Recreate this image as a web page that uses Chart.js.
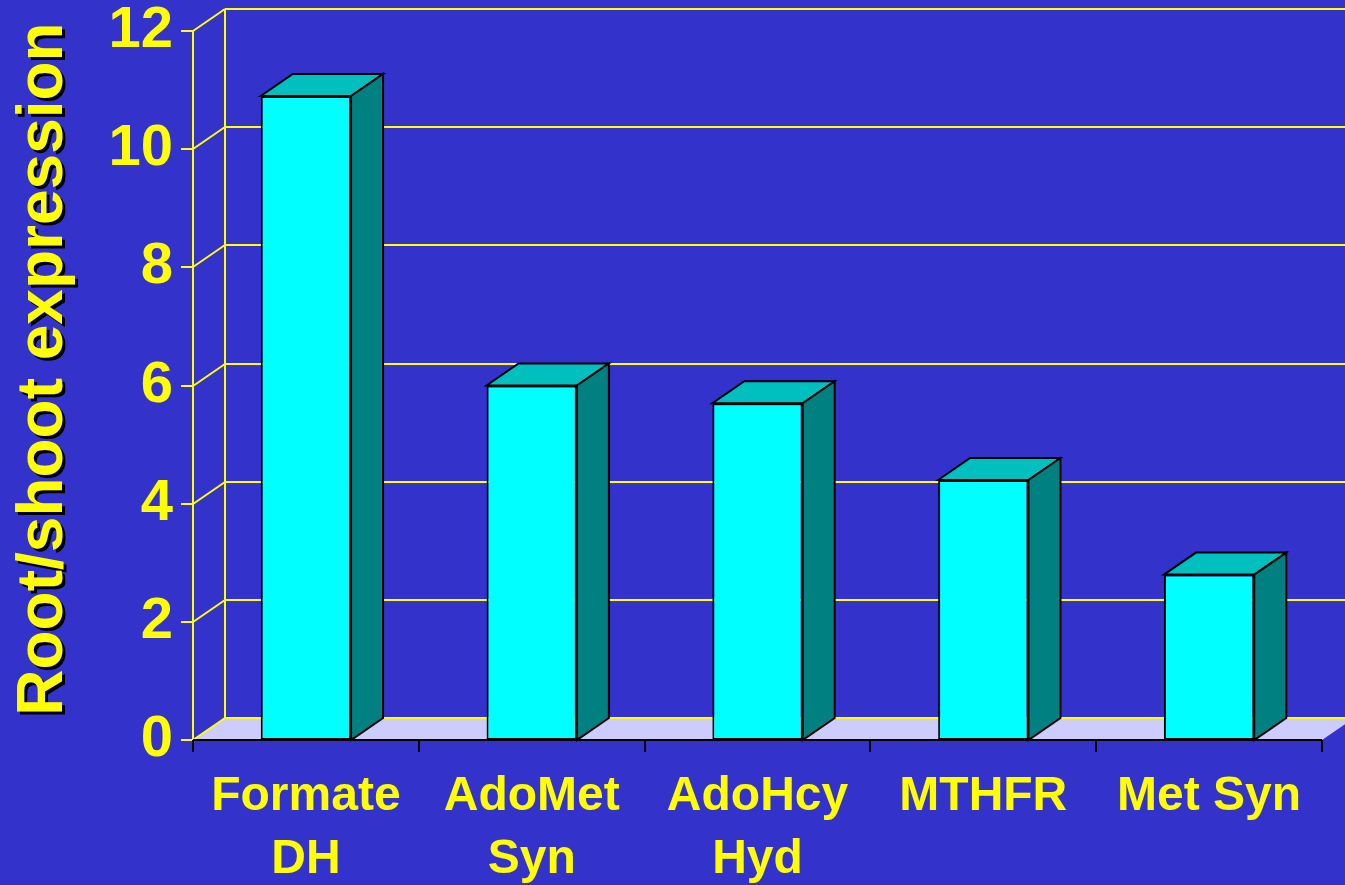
<!DOCTYPE html>
<html>
<head>
<meta charset="utf-8">
<script src="https://cdn.jsdelivr.net/npm/chart.js@4/dist/chart.umd.min.js"></script>
<style>
  html, body { margin: 0; padding: 0; background: #3333CC; }
  canvas { display: block; }
</style>
</head>
<body>
<canvas id="expression-chart" width="1345" height="885"></canvas>
<script>
// data
const genes = [['Formate', 'DH'], ['AdoMet', 'Syn'], ['AdoHcy', 'Hyd'], 'MTHFR', 'Met Syn'];
const rootShootRatio = [10.9, 6.0, 5.7, 4.4, 2.8];
const yMin = 0;
const yMax = 12;
const yStep = 2;
const yTitle = 'Root/shoot expression';

const YELLOW = '#FFFF00';
const BG = '#3333CC';
const DX = 32;   // depth offset of the 3D box
const DY = 22;
const fontFamily = '"Liberation Sans", Arial, sans-serif';

const box3d = {
  id: 'box3d',
  beforeDraw(chart) {
    const ctx = chart.ctx;
    ctx.save();
    ctx.fillStyle = BG;
    ctx.fillRect(0, 0, chart.width, chart.height);
    ctx.restore();
  },
  beforeDatasetsDraw(chart) {
    const ctx = chart.ctx;
    const a = chart.chartArea;
    const y = chart.scales.y;
    const x = chart.scales.x;
    const y0 = Math.round(y.getPixelForValue(0));
    const left = Math.round(a.left);
    ctx.save();
    // floor
    ctx.fillStyle = '#CCCCFF';
    ctx.beginPath();
    ctx.moveTo(left, y0);
    ctx.lineTo(a.right, y0);
    ctx.lineTo(a.right + DX, y0 - DY);
    ctx.lineTo(left + DX, y0 - DY);
    ctx.closePath();
    ctx.fill();
    // grid on back and side wall
    ctx.strokeStyle = YELLOW;
    ctx.lineWidth = 2;
    for (let v = yMin; v <= yMax; v += yStep) {
      const py = Math.round(y.getPixelForValue(v));
      ctx.beginPath();
      ctx.moveTo(left + DX, py - DY);
      ctx.lineTo(chart.width, py - DY);
      ctx.moveTo(left, py);
      ctx.lineTo(left + DX, py - DY);
      ctx.moveTo(left - 12, py);
      ctx.lineTo(left, py);
      ctx.stroke();
    }
    const yTop = Math.round(y.getPixelForValue(yMax));
    ctx.beginPath();
    ctx.moveTo(left, yTop);
    ctx.lineTo(left, y0);
    ctx.moveTo(left + DX, yTop - DY);
    ctx.lineTo(left + DX, y0 - DY);
    ctx.stroke();
    // category axis
    ctx.strokeStyle = '#000';
    ctx.beginPath();
    ctx.moveTo(left, y0);
    ctx.lineTo(a.right, y0);
    for (let i = 0; i <= genes.length; i++) {
      const px = Math.round(x.getPixelForValue(i - 0.5));
      ctx.moveTo(px, y0);
      ctx.lineTo(px, y0 + 12);
    }
    ctx.stroke();
    ctx.restore();
  },
  afterDatasetsDraw(chart) {
    const ctx = chart.ctx;
    ctx.save();
    ctx.strokeStyle = '#000';
    ctx.lineWidth = 2;
    ctx.lineJoin = 'miter';
    chart.getDatasetMeta(0).data.forEach((bar) => {
      const l = bar.x - bar.width / 2;
      const r = bar.x + bar.width / 2;
      const t = bar.y;
      const b = bar.base;
      ctx.fillStyle = '#00BFBF';
      ctx.beginPath();
      ctx.moveTo(l, t);
      ctx.lineTo(l + DX, t - DY);
      ctx.lineTo(r + DX, t - DY);
      ctx.lineTo(r, t);
      ctx.closePath();
      ctx.fill();
      ctx.stroke();
      ctx.fillStyle = '#008080';
      ctx.beginPath();
      ctx.moveTo(r, t);
      ctx.lineTo(r + DX, t - DY);
      ctx.lineTo(r + DX, b - DY);
      ctx.lineTo(r, b);
      ctx.closePath();
      ctx.fill();
      ctx.stroke();
    });
    ctx.restore();
  },
  afterDraw(chart) {
    // axis title with the drop shadow of the slide
    const ctx = chart.ctx;
    ctx.save();
    ctx.translate(44, 369);
    ctx.rotate(-Math.PI / 2);
    ctx.font = 'bold 64px ' + fontFamily;
    ctx.textAlign = 'center';
    ctx.textBaseline = 'middle';
    ctx.shadowColor = '#000';
    ctx.shadowOffsetX = 3;
    ctx.shadowOffsetY = 3;
    ctx.fillStyle = YELLOW;
    ctx.fillText(yTitle, 0, 0);
    ctx.restore();
  }
};

const expressionChart = new Chart('expression-chart', {
  type: 'bar',
  data: {
    labels: genes,
    datasets: [{
      label: yTitle,
      data: rootShootRatio,
      backgroundColor: '#00FFFF',
      borderColor: '#000000',
      borderWidth: 2,
      borderSkipped: false,
      categoryPercentage: 1,
      barPercentage: 0.4,
    }],
  },
  options: {
    responsive: false,
    animation: false,
    layout: {
      padding: { top: 31, right: 23, left: 0, bottom: 0 },
    },
    scales: {
      x: {
        grid: { display: false },
        border: { display: false },
        ticks: {
          color: YELLOW,
          autoSkip: false,
          maxRotation: 0,
          padding: 18,
          font: { family: fontFamily, size: 48, weight: 'bold', lineHeight: 1.3 },
        },
        afterFit(scale) { scale.height = 145; },
      },
      y: {
        min: yMin,
        max: yMax,
        grid: { display: false },
        border: { display: false },
        ticks: {
          stepSize: yStep,
          color: YELLOW,
          padding: 12,
          font: { family: fontFamily, size: 58, weight: 'bold', lineHeight: 1 },
        },
        afterFit(scale) {
          scale.width = 193;
          scale.paddingTop = 0;
          scale.paddingBottom = 0;
        },
      },
    },
    plugins: {
      legend: { display: false },
      tooltip: { enabled: false },
    },
  },
  plugins: [box3d],
});
</script>
</body>
</html>
